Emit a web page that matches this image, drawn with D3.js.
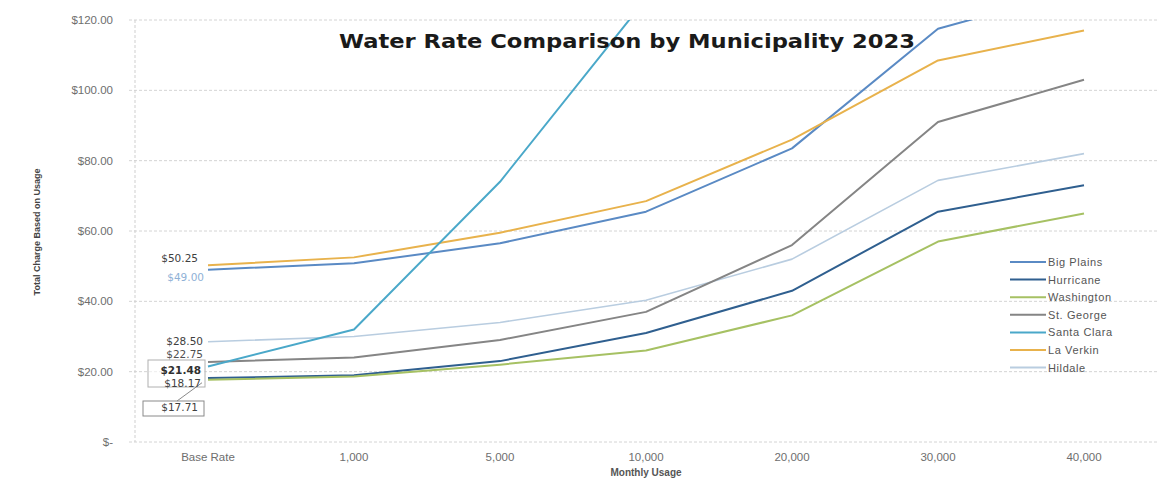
<!DOCTYPE html>
<html>
<head>
<meta charset="utf-8">
<script src="https://cdn.jsdelivr.net/npm/d3@7"></script>
<style>
body{margin:0;background:#fff;}
svg{display:block;font-family:"Liberation Sans",Arial,sans-serif;}
</style>
</head>
<body>
<svg id="canvas" width="1166" height="487"></svg>
<script>
// monthly usage categories (gallons)
let categories=["Base Rate","1,000","5,000","10,000","20,000","30,000","40,000"]

// total charge per municipality
let bigPlains=[49.00,50.8,56.5,65.5,83.5,117.5,129]
let hurricane=[18.17,19,23,31,43,65.5,73]
let washington=[17.71,18.6,22,26,36,57,65]
let stGeorge=[22.75,24,29,37,56,91,103]
let santaClara=[21.48,32,74,126,190,255,320]
let laVerkin=[50.25,52.5,59.5,68.5,86,108.5,117]
let hildale=[28.50,30,34,40.3,52,74.4,82]

let seriesNames=["Big Plains","Hurricane","Washington","St. George","Santa Clara","La Verkin","Hildale"]
let seriesValues=[bigPlains,hurricane,washington,stGeorge,santaClara,laVerkin,hildale]
let yTicks=[0,20,40,60,80,100,120]

let colors={
    "Big Plains":"#5a8ac4",
    "Hurricane":"#2f5f8f",
    "Washington":"#a6c163",
    "St. George":"#858585",
    "Santa Clara":"#4aa8c9",
    "La Verkin":"#e8b24c",
    "Hildale":"#b9cde0"
}

let svg=d3.select('#canvas')
let plotLeft=135, plotRight=1157, plotTop=20, plotBottom=442

let x=d3.scaleBand().domain(categories).range([plotLeft,plotRight]).padding(0)
let y=d3.scaleLinear().domain([0,120]).range([plotBottom,plotTop])

// grid lines
svg.append('g')
   .selectAll('line')
   .data(yTicks)
   .enter()
   .append('line')
   .attr('x1',plotLeft-6)
   .attr('x2',plotRight)
   .attr('y1',(d)=>y(d))
   .attr('y2',(d)=>y(d))
   .attr('stroke','#d4d4d4')
   .attr('stroke-dasharray','3,2')
   .attr('stroke-width',1)

// y axis line
svg.append('line')
   .attr('x1',plotLeft).attr('x2',plotLeft)
   .attr('y1',plotTop).attr('y2',plotBottom)
   .attr('stroke','#cfcfcf')
   .attr('stroke-dasharray','3,2')

// y tick labels
let yFmt=(d)=> d==0 ? '$-' : '$'+d3.format('.2f')(d)
svg.append('g')
   .selectAll('text')
   .data(yTicks)
   .enter()
   .append('text')
   .attr('x',113)
   .attr('y',(d)=>y(d)+4)
   .attr('text-anchor','end')
   .attr('font-size',11.5)
   .attr('fill','#6e6e6e')
   .text(yFmt)

// x tick labels
svg.append('g')
   .selectAll('text')
   .data(categories)
   .enter()
   .append('text')
   .attr('x',(d)=>x(d)+x.bandwidth()/2)
   .attr('y',461)
   .attr('text-anchor','middle')
   .attr('font-size',11.5)
   .attr('fill','#6e6e6e')
   .text((d)=>d)

// axis titles
svg.append('text')
   .attr('x',(plotLeft+plotRight)/2)
   .attr('y',476)
   .attr('text-anchor','middle')
   .attr('font-size',10)
   .attr('font-weight','bold')
   .attr('fill','#555')
   .text('Monthly Usage')

svg.append('text')
   .attr('transform','translate(40,232) rotate(-90)')
   .attr('text-anchor','middle')
   .attr('font-size',9)
   .attr('font-weight','bold')
   .attr('fill','#444')
   .text('Total Charge Based on Usage')

// clip lines to plot area
svg.append('clipPath').attr('id','plot')
   .append('rect')
   .attr('x',plotLeft).attr('y',plotTop)
   .attr('width',plotRight-plotLeft).attr('height',plotBottom-plotTop)

let line=d3.line()
    .x((d,i)=>x(categories[i])+x.bandwidth()/2)
    .y((d)=>y(d))

let drawOrder=[6,0,5,3,1,2,4]
svg.append('g')
   .attr('clip-path','url(#plot)')
   .selectAll('path')
   .data(drawOrder)
   .enter()
   .append('path')
   .attr('d',(i)=>line(seriesValues[i]))
   .attr('fill','none')
   .attr('stroke',(i)=>colors[seriesNames[i]])
   .attr('stroke-width',(i)=>seriesNames[i]=='Hildale' ? 1.6 : 2)
   .attr('stroke-linejoin','round')

// title
svg.append('text')
   .attr('x',339)
   .attr('y',48)
   .attr('font-family','"DejaVu Sans",sans-serif')
   .attr('font-size',20)
   .attr('font-weight','bold')
   .attr('fill','#1a1a1a')
   .attr('textLength',576)
   .attr('lengthAdjust','spacingAndGlyphs')
   .text('Water Rate Comparison by Municipality 2023')

// data labels at the base rate
let labelPos={
    "La Verkin":{dx:-10,dy:-3,color:'#404040'},
    "Big Plains":{dx:-4,dy:11,color:'#8fb1d6'},
    "Hildale":{dx:-5,dy:3,color:'#404040'},
    "St. George":{dx:-5,dy:-4,color:'#505050'},
    "Santa Clara":{dx:-7,dy:8,color:'#303030'},
    "Hurricane":{dx:-7,dy:9,color:'#404040'},
    "Washington":{dx:-10,dy:31,color:'#404040'}
}
let bx=x(categories[0])+x.bandwidth()/2

// boxes behind labels
svg.append('rect')
   .attr('x',148).attr('y',360).attr('width',57).attr('height',27)
   .attr('fill','#fff').attr('fill-opacity',0.6)
   .attr('stroke','#b0b0b0').attr('stroke-width',1)
svg.append('rect')
   .attr('x',143).attr('y',401).attr('width',61).attr('height',15)
   .attr('fill','#fff')
   .attr('stroke','#8a8a8a').attr('stroke-width',1)
svg.append('line')
   .attr('x1',177).attr('y1',401)
   .attr('x2',bx-6).attr('y2',y(washington[0])+3)
   .attr('stroke','#8a8a8a')

svg.append('g')
   .selectAll('text')
   .data(seriesNames)
   .enter()
   .append('text')
   .attr('x',(d)=>bx+labelPos[d].dx)
   .attr('y',(d,i)=>y(seriesValues[i][0])+labelPos[d].dy)
   .attr('text-anchor','end')
   .attr('font-family','"DejaVu Sans",sans-serif')
   .attr('font-size',10.5)
   .attr('fill',(d)=>labelPos[d].color)
   .attr('font-weight',(d)=>d=='Santa Clara' ? 'bold' : 'normal')
   .text((d,i)=>'$'+d3.format('.2f')(seriesValues[i][0]))

// legend
let legend=svg.append('g')
    .selectAll('g')
    .data(seriesNames)
    .enter()
    .append('g')
    .attr('transform',(d,i)=>'translate(1010,'+(262+i*17.6)+')')
legend.append('line')
    .attr('x1',0).attr('x2',36)
    .attr('stroke',(d)=>colors[d])
    .attr('stroke-width',2)
legend.append('text')
    .attr('x',38)
    .attr('y',4)
    .attr('font-size',11)
    .attr('letter-spacing',0.6)
    .attr('fill','#555')
    .text((d)=>d)
</script>
</body>
</html>
